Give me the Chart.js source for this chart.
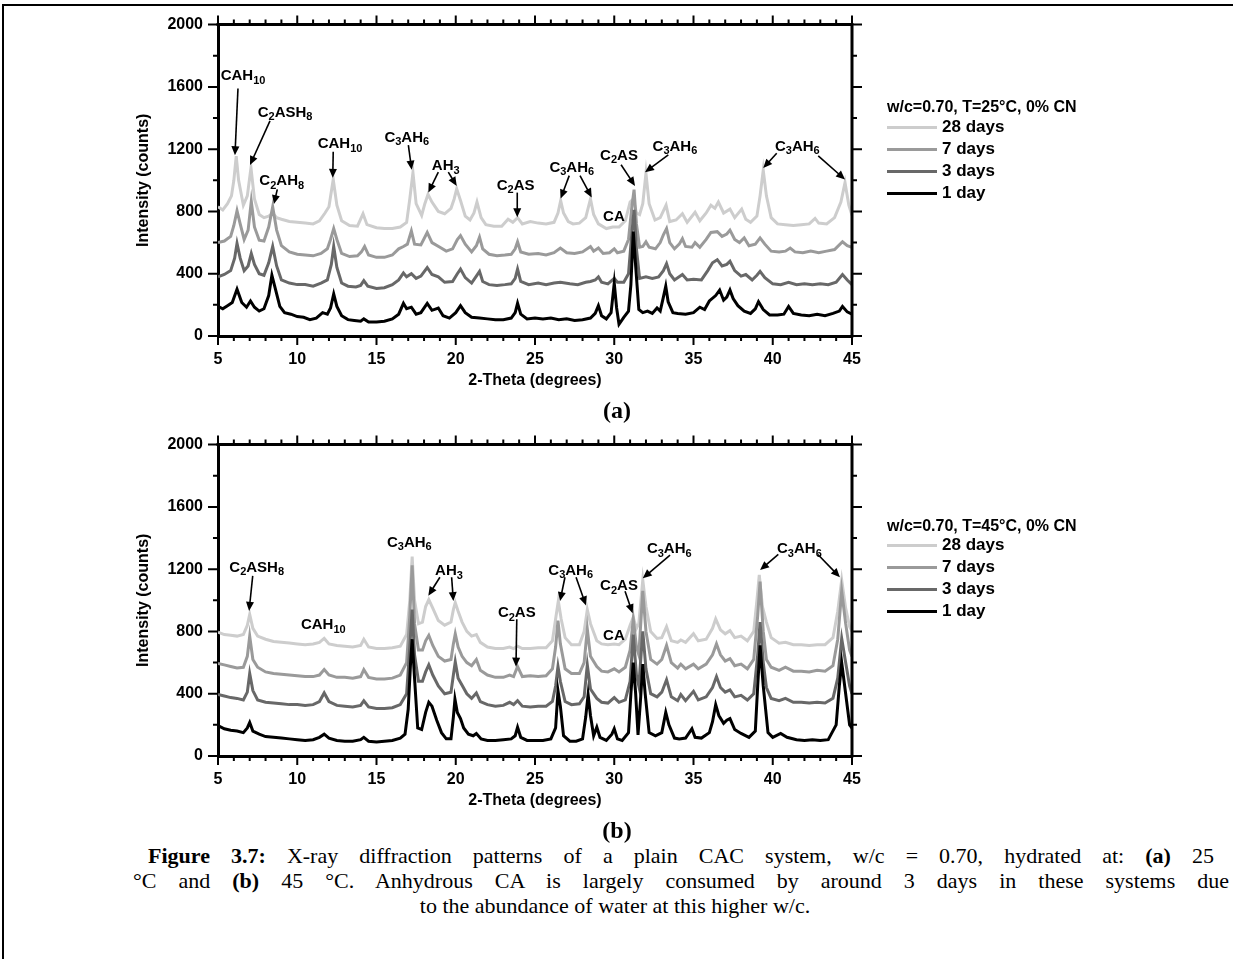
<!DOCTYPE html>
<html><head><meta charset="utf-8">
<script src="https://cdn.jsdelivr.net/npm/chart.js@4/dist/chart.umd.min.js"></script>
<style>
html,body{margin:0;padding:0;background:#fff;}
body{width:1233px;height:959px;overflow:hidden;position:relative;font-family:"Liberation Sans",Arial,sans-serif;color:#000;}
#frame{position:absolute;left:2px;top:4px;width:1300px;height:1000px;border-left:2px solid #000;border-top:2px solid #000;box-sizing:border-box;}
canvas.ch{position:absolute;left:0;}
.lg{position:absolute;font-weight:bold;white-space:nowrap;line-height:20px;}
.sw{position:absolute;height:3px;width:50px;}
.cap{position:absolute;font-family:"Liberation Serif","Times New Roman",serif;font-size:22px;line-height:25px;white-space:nowrap;}
.just{text-align:justify;text-align-last:justify;white-space:normal;}
.pl{position:absolute;font-family:"Liberation Serif","Times New Roman",serif;font-weight:bold;font-size:24px;line-height:26px;width:100px;text-align:center;}
</style></head><body>
<div id="frame"></div>
<canvas id="cA" class="ch" width="1233" height="400" style="top:0px"></canvas>
<canvas id="cB" class="ch" width="1233" height="400" style="top:420px"></canvas>
<div class="pl" style="left:567px;top:397px">(a)</div>
<div class="pl" style="left:567px;top:817px">(b)</div>
<div id="legA"></div><div id="legB"></div>
<div class="cap just" style="left:148px;top:843px;width:1066px"><b>Figure 3.7:</b> X-ray diffraction patterns of a plain CAC system, w/c = 0.70, hydrated at: <b>(a)</b> 25</div>
<div class="cap just" style="left:133px;top:868px;width:1096px">°C and <b>(b)</b> 45 °C. Anhydrous CA is largely consumed by around 3 days in these systems due</div>
<div class="cap" style="left:0;top:893px;width:1230px;text-align:center">to the abundance of water at this higher w/c.</div>
<script>
// ---------- DATA ----------
const seriesLabels = ['1 day','3 days','7 days','28 days'];
const xTickLabels = [5,10,15,20,25,30,35,40,45];
const yTickLabels = [0,400,800,1200,1600,2000];
const legendTitleA = 'w/c=0.70, T=25°C, 0% CN';
const legendTitleB = 'w/c=0.70, T=45°C, 0% CN';

// (a) 25 °C
const a1day = [[5,190],[5.3,175],[5.6,195],[5.9,215],[6.2,300],[6.5,215],[6.8,185],[7.05,225],[7.3,185],[7.6,160],[7.9,175],[8.2,260],[8.4,390],[8.6,310],[8.9,190],[9.2,150],[9.6,140],[10,125],[10.4,120],[10.8,105],[11.2,115],[11.6,150],[11.9,140],[12.1,180],[12.3,270],[12.5,190],[12.8,130],[13.2,105],[13.6,100],[14.0,95],[14.2,110],[14.5,90],[15,90],[15.5,95],[16,110],[16.4,140],[16.7,210],[16.9,175],[17.2,185],[17.5,140],[17.8,150],[18.2,210],[18.5,165],[18.9,180],[19.2,130],[19.6,115],[20.0,150],[20.3,195],[20.6,150],[21.0,120],[21.5,115],[22,110],[22.5,105],[23,105],[23.5,115],[23.75,150],[23.9,210],[24.1,140],[24.5,110],[25,115],[25.5,110],[26,115],[26.5,105],[27,110],[27.5,100],[28,105],[28.5,115],[28.8,145],[29.0,195],[29.2,130],[29.5,110],[29.8,150],[30.0,340],[30.15,180],[30.3,75],[30.6,120],[30.9,160],[31.05,330],[31.2,670],[31.35,450],[31.55,170],[31.8,150],[32.1,160],[32.4,145],[32.7,180],[32.9,160],[33.1,250],[33.25,320],[33.4,220],[33.7,150],[34,145],[34.5,140],[35,150],[35.4,185],[35.7,170],[36.0,225],[36.4,260],[36.65,295],[36.9,230],[37.1,250],[37.3,295],[37.5,240],[37.8,195],[38.2,160],[38.6,145],[38.9,175],[39.1,220],[39.4,170],[39.8,135],[40.3,135],[40.7,140],[41.0,190],[41.3,145],[41.8,135],[42.3,130],[42.8,140],[43.3,130],[43.8,145],[44.2,160],[44.4,190],[44.7,155],[45,140]];
const a3days = [[5,380],[5.4,395],[5.8,420],[6.05,500],[6.2,595],[6.4,500],[6.65,420],[6.9,450],[7.1,530],[7.3,460],[7.6,400],[7.9,390],[8.2,470],[8.45,575],[8.7,450],[9.0,360],[9.5,340],[10,330],[10.5,330],[11,320],[11.5,340],[11.9,360],[12.15,460],[12.3,575],[12.5,440],[12.8,340],[13.2,320],[13.7,315],[14.0,325],[14.2,355],[14.45,320],[15,305],[15.5,310],[16,330],[16.4,360],[16.7,405],[16.9,380],[17.2,400],[17.5,370],[17.8,385],[18.2,440],[18.5,395],[18.9,380],[19.3,345],[19.8,350],[20.1,400],[20.3,430],[20.6,375],[21.0,340],[21.3,385],[21.5,415],[21.7,350],[22.1,330],[22.6,325],[23.1,330],[23.5,335],[23.75,370],[23.9,430],[24.1,350],[24.6,330],[25.2,340],[25.7,330],[26.2,340],[26.6,345],[27.2,335],[27.7,330],[28.2,345],[28.5,350],[28.8,360],[29.0,380],[29.2,345],[29.6,335],[30.0,370],[30.2,345],[30.6,345],[30.9,400],[31.1,650],[31.25,810],[31.4,560],[31.6,370],[32.0,380],[32.4,370],[32.8,380],[33.1,420],[33.3,465],[33.5,400],[33.8,360],[34.3,395],[34.6,360],[35.0,365],[35.5,360],[35.9,420],[36.2,470],[36.5,490],[36.8,450],[37.1,460],[37.3,480],[37.6,420],[38.0,385],[38.3,395],[38.7,360],[39.0,390],[39.2,415],[39.5,375],[40,335],[40.5,330],[41,345],[41.5,330],[42,335],[42.5,330],[43,335],[43.5,330],[44,345],[44.4,395],[44.7,360],[45,330]];
const a7days = [[5,600],[5.4,610],[5.8,640],[6.0,710],[6.2,805],[6.4,720],[6.65,620],[6.9,680],[7.1,865],[7.3,700],[7.6,615],[7.9,610],[8.2,700],[8.45,830],[8.7,680],[9.0,580],[9.5,540],[10,525],[10.5,520],[11,515],[11.5,530],[11.9,560],[12.1,620],[12.3,690],[12.5,620],[12.8,530],[13.3,510],[13.8,515],[14.05,540],[14.25,575],[14.5,520],[15,505],[15.5,505],[16,520],[16.4,560],[16.7,575],[16.95,590],[17.2,675],[17.4,590],[17.8,585],[18.2,665],[18.5,600],[19.0,570],[19.4,545],[19.8,560],[20.1,620],[20.3,645],[20.6,590],[21.0,540],[21.3,580],[21.5,635],[21.7,560],[22.1,525],[22.6,515],[23.1,520],[23.5,525],[23.75,560],[23.9,605],[24.1,540],[24.6,525],[25.2,530],[25.7,520],[26.2,535],[26.6,565],[27.0,535],[27.5,530],[28.0,540],[28.5,575],[28.7,545],[29.0,565],[29.3,530],[29.7,535],[30.0,560],[30.2,535],[30.6,545],[30.9,620],[31.1,820],[31.25,940],[31.4,720],[31.6,570],[31.8,575],[32.0,605],[32.2,570],[32.6,560],[32.9,600],[33.1,650],[33.3,690],[33.5,600],[33.8,560],[34.1,590],[34.3,625],[34.5,575],[34.9,570],[35.1,600],[35.4,570],[35.8,620],[36.1,665],[36.5,670],[36.8,640],[37.1,655],[37.3,680],[37.6,620],[37.9,600],[38.2,630],[38.5,580],[38.9,590],[39.2,630],[39.5,590],[39.9,545],[40.4,540],[40.8,545],[41.1,565],[41.4,540],[41.9,535],[42.4,545],[42.9,535],[43.4,545],[43.9,555],[44.4,605],[44.7,580],[45,570]];
const a28days = [[5,830],[5.3,810],[5.6,850],[5.85,900],[6.0,1000],[6.15,1155],[6.3,1000],[6.6,840],[6.85,900],[7.08,1080],[7.3,880],[7.6,780],[7.9,760],[8.2,770],[8.45,790],[8.7,760],[9.0,750],[9.5,735],[10,730],[10.5,725],[11,720],[11.4,740],[11.75,790],[12.0,830],[12.27,1005],[12.5,840],[12.8,740],[13.3,710],[13.8,705],[14.15,785],[14.4,715],[15,695],[15.5,690],[16,690],[16.5,700],[16.9,730],[17.1,880],[17.3,1050],[17.5,850],[17.85,775],[18.05,850],[18.25,910],[18.5,860],[18.9,800],[19.3,785],[19.7,820],[19.9,880],[20.06,945],[20.3,870],[20.6,770],[20.9,745],[21.15,790],[21.34,860],[21.6,760],[21.9,715],[22.4,705],[22.9,705],[23.3,750],[23.6,730],[23.9,760],[24.2,720],[24.7,735],[25.2,725],[25.7,720],[26.2,730],[26.45,790],[26.62,870],[26.8,790],[27.1,735],[27.4,720],[27.8,725],[28.2,760],[28.5,880],[28.7,780],[29.0,720],[29.5,690],[29.9,700],[30.3,700],[30.7,740],[31.0,860],[31.2,880],[31.4,790],[31.6,780],[31.8,850],[32.0,1045],[32.2,850],[32.57,745],[32.9,760],[33.27,840],[33.5,735],[33.9,745],[34.3,785],[34.6,730],[35.1,795],[35.4,740],[35.8,790],[36.1,840],[36.35,820],[36.57,860],[36.9,790],[37.3,815],[37.6,760],[38.04,815],[38.3,750],[38.6,730],[39.0,770],[39.2,900],[39.4,1065],[39.6,900],[39.9,760],[40.3,720],[40.8,715],[41.3,710],[41.8,715],[42.3,720],[42.67,755],[42.9,725],[43.4,720],[43.9,760],[44.3,860],[44.56,985],[44.8,840],[45,775]];

// (b) 45 °C
const b1day = [[5,195],[5.4,175],[5.8,165],[6.2,160],[6.6,150],[6.85,180],[7.0,215],[7.2,160],[7.6,140],[8,125],[8.5,120],[9,115],[9.5,110],[10,105],[10.5,100],[11,105],[11.4,120],[11.7,140],[12,115],[12.5,100],[13,95],[13.5,95],[14.0,105],[14.2,120],[14.5,95],[15,90],[15.5,95],[16,100],[16.5,115],[16.8,140],[17.0,300],[17.15,600],[17.25,750],[17.4,500],[17.6,180],[17.85,170],[18.1,280],[18.3,345],[18.5,320],[18.8,230],[19.1,150],[19.4,110],[19.7,110],[19.85,250],[19.95,365],[20.1,280],[20.3,240],[20.5,180],[20.8,140],[21.1,130],[21.3,145],[21.6,110],[22,100],[22.5,100],[23,105],[23.5,110],[23.75,130],[23.9,185],[24.1,120],[24.5,100],[25,100],[25.5,100],[26.0,110],[26.3,180],[26.45,420],[26.6,320],[26.8,130],[27.2,95],[27.6,95],[28.0,110],[28.2,250],[28.35,395],[28.5,260],[28.7,130],[28.9,185],[29.1,120],[29.5,100],[29.85,140],[30.0,175],[30.2,110],[30.5,100],[30.9,150],[31.05,400],[31.2,600],[31.35,400],[31.5,135],[31.65,350],[31.8,590],[31.95,400],[32.2,150],[32.6,130],[33.0,150],[33.25,280],[33.45,200],[33.8,115],[34.1,110],[34.5,115],[34.9,175],[35.1,120],[35.5,115],[36.0,150],[36.2,220],[36.4,330],[36.6,260],[36.9,210],[37.1,230],[37.3,240],[37.6,170],[38.0,145],[38.5,120],[38.9,160],[39.05,450],[39.2,710],[39.4,450],[39.7,150],[40.0,120],[40.5,145],[40.9,120],[41.5,105],[42,100],[42.5,105],[43,100],[43.5,105],[44.0,200],[44.2,450],[44.35,600],[44.6,400],[44.85,200],[45,180]];
const b3days = [[5,395],[5.4,385],[5.8,375],[6.2,370],[6.6,360],[6.85,410],[7.0,530],[7.2,420],[7.5,360],[8,345],[8.5,340],[9,335],[9.5,330],[10,330],[10.5,325],[11,330],[11.4,350],[11.7,405],[12.0,350],[12.5,325],[13,320],[13.5,315],[14.0,325],[14.2,355],[14.5,315],[15,305],[15.5,305],[16,310],[16.5,330],[16.9,400],[17.1,700],[17.25,940],[17.4,650],[17.65,480],[17.9,480],[18.1,540],[18.3,585],[18.55,520],[18.9,450],[19.3,400],[19.7,410],[19.85,520],[19.97,605],[20.15,500],[20.4,455],[20.7,400],[21.0,370],[21.3,405],[21.55,350],[22,330],[22.5,320],[23,325],[23.4,345],[23.65,330],[23.9,355],[24.2,320],[24.7,315],[25.2,320],[25.7,320],[26.1,350],[26.3,450],[26.45,575],[26.6,480],[26.9,350],[27.3,330],[27.8,335],[28.1,380],[28.3,585],[28.5,430],[28.9,370],[29.2,345],[29.6,340],[30.0,375],[30.3,345],[30.7,360],[31.0,480],[31.2,780],[31.4,520],[31.55,450],[31.8,800],[32.0,560],[32.3,400],[32.7,380],[33.0,410],[33.3,490],[33.6,380],[34.0,355],[34.2,395],[34.5,355],[35.0,415],[35.3,360],[35.8,380],[36.2,440],[36.45,510],[36.7,440],[37.0,410],[37.3,425],[37.6,380],[38.0,390],[38.4,360],[38.8,400],[39.05,650],[39.2,860],[39.4,600],[39.6,440],[39.9,370],[40.4,355],[40.8,370],[41.3,345],[41.8,345],[42.3,340],[42.8,345],[43.3,340],[43.8,370],[44.1,500],[44.35,755],[44.6,600],[44.85,450],[45,400]];
const b7days = [[5,595],[5.4,585],[5.8,575],[6.2,565],[6.6,570],[6.85,640],[7.0,770],[7.2,620],[7.5,570],[8,540],[8.5,530],[9,525],[9.5,520],[10,515],[10.5,510],[11,510],[11.4,520],[11.7,555],[12.0,520],[12.5,505],[13,505],[13.5,500],[14.0,510],[14.2,555],[14.5,505],[15,495],[15.5,495],[16,500],[16.5,520],[16.9,600],[17.1,900],[17.25,1225],[17.4,850],[17.65,680],[17.9,680],[18.1,740],[18.3,775],[18.55,710],[18.9,640],[19.3,610],[19.7,620],[19.85,720],[19.97,785],[20.15,700],[20.4,640],[20.7,600],[21.0,580],[21.3,620],[21.55,550],[22,520],[22.5,505],[23,505],[23.4,520],[23.65,510],[23.9,575],[24.2,510],[24.7,515],[25.2,510],[25.7,515],[26.1,560],[26.3,700],[26.45,870],[26.6,720],[26.9,560],[27.3,530],[27.8,530],[28.1,600],[28.3,815],[28.5,640],[28.9,575],[29.2,545],[29.6,540],[30.0,560],[30.3,540],[30.7,570],[31.0,680],[31.2,880],[31.4,700],[31.55,650],[31.8,1060],[32.0,800],[32.3,620],[32.7,590],[33.0,620],[33.3,710],[33.6,600],[34.0,565],[34.2,590],[34.5,560],[35.0,590],[35.3,560],[35.8,590],[36.2,650],[36.45,720],[36.7,650],[37.0,610],[37.3,625],[37.6,580],[38.0,590],[38.4,560],[38.8,620],[39.05,900],[39.2,1120],[39.4,800],[39.6,620],[39.9,570],[40.4,550],[40.8,570],[41.3,545],[41.8,545],[42.3,540],[42.8,550],[43.3,545],[43.8,580],[44.1,750],[44.35,1060],[44.6,850],[44.85,680],[45,640]];
const b28days = [[5,795],[5.4,780],[5.8,775],[6.2,770],[6.6,780],[6.85,840],[7.0,910],[7.2,820],[7.5,770],[8,750],[8.5,735],[9,730],[9.5,725],[10,720],[10.5,715],[11,720],[11.4,730],[11.7,755],[12.0,720],[12.5,710],[13,705],[13.5,700],[14.0,710],[14.2,750],[14.5,700],[15,690],[15.5,690],[16,695],[16.5,705],[16.9,780],[17.1,1000],[17.25,1280],[17.4,1000],[17.65,850],[17.9,860],[18.1,960],[18.3,1005],[18.55,950],[18.9,870],[19.3,840],[19.7,860],[19.85,940],[19.97,985],[20.15,930],[20.4,860],[20.7,800],[21.0,770],[21.3,780],[21.55,730],[22,700],[22.5,690],[23,690],[23.4,700],[23.65,690],[23.9,705],[24.2,690],[24.7,690],[25.2,695],[25.7,695],[26.1,740],[26.3,880],[26.47,995],[26.65,880],[26.9,760],[27.3,715],[27.8,715],[28.1,800],[28.3,940],[28.5,850],[28.9,740],[29.2,720],[29.6,715],[30.0,720],[30.3,715],[30.7,750],[31.0,840],[31.2,890],[31.4,820],[31.55,850],[31.8,1130],[32.0,960],[32.3,800],[32.7,755],[33.0,760],[33.3,830],[33.6,740],[34.0,730],[34.2,745],[34.5,730],[35.0,785],[35.3,740],[35.8,750],[36.2,820],[36.4,880],[36.7,810],[37.0,785],[37.3,805],[37.6,760],[38.0,770],[38.4,740],[38.8,800],[39.0,1000],[39.15,1163],[39.35,960],[39.6,860],[39.9,760],[40.4,725],[40.8,730],[41.3,715],[41.8,715],[42.3,710],[42.8,715],[43.3,715],[43.8,760],[44.1,930],[44.35,1130],[44.6,950],[44.85,830],[45,800]];

// ---------- annotation labels (text + anchor/arrow in data units) ----------
const annotA = [
 {t:'CAH10', x:6.58, y:1678, ar:[[6.26,1590,6.07,1161]]},
 {t:'C2ASH8', x:9.23, y:1445, ar:[[8.28,1382,7.02,1098]]},
 {t:'C2AH8', x:9.02, y:1005, ar:[[8.74,942,8.53,847]]},
 {t:'CAH10', x:12.70, y:1241, ar:[[12.27,1184,12.24,1016]]},
 {t:'C3AH6', x:16.91, y:1283, ar:[[17.01,1226,17.22,1068]]},
 {t:'AH3', x:19.37, y:1100, ar:[[18.90,1052,18.27,921],[19.53,1052,20.06,964]]},
 {t:'C2AS', x:23.78, y:974, ar:[[23.88,921,23.88,763]]},
 {t:'C3AH6', x:27.32, y:1090, ar:[[27.16,1030,26.62,883],[27.84,1030,28.58,890]]},
 {t:'C2AS', x:30.30, y:1167, ar:[[30.43,1100,31.31,964]]},
 {t:'CA', x:29.98, y:774, ar:[]},
 {t:'C3AH6', x:33.83, y:1226, ar:[[33.41,1163,31.94,1052]]},
 {t:'C3AH6', x:41.55, y:1226, ar:[[40.25,1174,39.40,1079],[42.87,1157,44.56,1005]]}
];
const annotB = [
 {t:'C2ASH8', x:7.44, y:1220, ar:[[7.19,1157,6.96,932]]},
 {t:'CAH10', x:11.64, y:848, ar:[]},
 {t:'C3AH6', x:17.07, y:1380, ar:[]},
 {t:'AH3', x:19.57, y:1195, ar:[[19.0,1148,18.27,1030],[19.74,1148,19.85,995]]},
 {t:'C2AS', x:23.85, y:926, ar:[[23.85,879,23.8,574]]},
 {t:'C3AH6', x:27.25, y:1199, ar:[[26.89,1148,26.58,995],[27.59,1148,28.22,967]]},
 {t:'C2AS', x:30.30, y:1100, ar:[[30.68,1058,31.16,917]]},
 {t:'CA', x:29.98, y:778, ar:[]},
 {t:'C3AH6', x:33.47, y:1338, ar:[[33.52,1290,31.80,1142]]},
 {t:'C3AH6', x:41.68, y:1338, ar:[[40.35,1295,39.20,1194],[42.85,1294,44.24,1148]]}
];

// ---------- styling ----------
const colors = ['#000000','#686868','#9a9a9a','#cdcdcd'];
const FONT = '"Liberation Sans", Arial, sans-serif';
Chart.defaults.font.family = FONT;
Chart.defaults.color = '#000';

const toXY = arr => arr.map(p => ({x:p[0], y:p[1]}));

const frameTicks = {
  id:'frameTicks',
  afterDraw(chart){
    const {ctx, chartArea:{left,right,top,bottom}, scales:{x,y}} = chart;
    ctx.save();
    ctx.strokeStyle='#000';
    ctx.lineWidth=3;
    ctx.beginPath();
    ctx.moveTo(left-1.5, top); ctx.lineTo(right+1.5, top);
    ctx.moveTo(right, top); ctx.lineTo(right, bottom+1.5);
    ctx.stroke();
    ctx.lineWidth=2;
    ctx.beginPath();
    for(let v=5; v<=45; v++){
      const px = x.getPixelForValue(v);
      const L = (v%5===0)?9:5;
      ctx.moveTo(px,bottom); ctx.lineTo(px,bottom+L);
      ctx.moveTo(px,top); ctx.lineTo(px,top-L);
    }
    for(let v=0; v<=2000; v+=200){
      const py = y.getPixelForValue(v);
      const L = (v%400===0)?10:5;
      ctx.moveTo(left,py); ctx.lineTo(left-L,py);
      ctx.moveTo(right,py); ctx.lineTo(right+L,py);
    }
    ctx.stroke();
    ctx.restore();
  }
};

function drawChem(ctx, text, cx, cy){
  const runs = text.match(/\d+|\D+/g);
  const big = 'bold 15px '+FONT, small = 'bold 11px '+FONT;
  let w = 0;
  const parts = runs.map(r => { const sub=/\d/.test(r); ctx.font = sub?small:big; const m=ctx.measureText(r).width; w+=m; return {r,sub,m}; });
  let xx = cx - w/2;
  ctx.textAlign='left'; ctx.textBaseline='alphabetic'; ctx.fillStyle='#000';
  parts.forEach(p => { ctx.font = p.sub?small:big; ctx.fillText(p.r, xx, cy + (p.sub?9:5.5)); xx += p.m; });
}
function arrow(ctx, x0,y0,x1,y1){
  const a = Math.atan2(y1-y0, x1-x0), L=9, W=4;
  ctx.beginPath(); ctx.moveTo(x0,y0); ctx.lineTo(x1 - Math.cos(a)*L*0.8, y1 - Math.sin(a)*L*0.8); ctx.stroke();
  ctx.beginPath();
  ctx.moveTo(x1,y1);
  ctx.lineTo(x1 - L*Math.cos(a) + W*Math.sin(a), y1 - L*Math.sin(a) - W*Math.cos(a));
  ctx.lineTo(x1 - L*Math.cos(a) - W*Math.sin(a), y1 - L*Math.sin(a) + W*Math.cos(a));
  ctx.closePath(); ctx.fill();
}
const annotPlugin = {
  id:'annot',
  afterDatasetsDraw(chart, args, opts){
    const {ctx, scales:{x,y}} = chart;
    ctx.save();
    ctx.strokeStyle='#000'; ctx.fillStyle='#000'; ctx.lineWidth=1.6;
    (opts.items||[]).forEach(a => {
      drawChem(ctx, a.t, x.getPixelForValue(a.x), y.getPixelForValue(a.y));
      a.ar.forEach(r => arrow(ctx, x.getPixelForValue(r[0]), y.getPixelForValue(r[1]), x.getPixelForValue(r[2]), y.getPixelForValue(r[3])));
    });
    ctx.restore();
  }
};

function makeChart(id, series, annots){
  return new Chart(document.getElementById(id), {
    type:'line',
    data:{ datasets: series.map((s,i)=>({label:seriesLabels[i], data:toXY(s), borderColor:colors[i], backgroundColor:colors[i], borderWidth:3, pointRadius:0, tension:0, fill:false})) },
    options:{
      responsive:false, animation:false, devicePixelRatio:1,
      layout:{padding:{left:0, top:19, right:381, bottom:0}},
      plugins:{legend:{display:false}, tooltip:{enabled:false}, annot:{items:annots}},
      scales:{
        x:{type:'linear', min:5, max:45, position:'bottom',
           afterFit(s){ s.height = 64; },
           afterBuildTicks(s){ s.ticks = xTickLabels.map(v=>({value:v})); },
           ticks:{padding:14, font:{size:16, weight:'bold'}, color:'#000', maxRotation:0, autoSkip:false, callback:v=>String(v)},
           grid:{display:false, drawTicks:false},
           border:{display:true, width:3, color:'#000'},
           title:{display:true, text:'2-Theta (degrees)', font:{size:16, weight:'bold'}, color:'#000', padding:{top:0, bottom:10}}},
        y:{type:'linear', min:0, max:2000, position:'left',
           afterFit(s){ s.width = 218; },
           afterBuildTicks(s){ s.ticks = yTickLabels.map(v=>({value:v})); },
           ticks:{padding:15, font:{size:16, weight:'bold'}, color:'#000', autoSkip:false, callback:v=>String(v)},
           grid:{display:false, drawTicks:false},
           border:{display:true, width:3, color:'#000'},
           title:{display:true, text:'Intensity (counts)', font:{size:16, weight:'bold'}, color:'#000', padding:{top:134, bottom:0}}}
      }
    },
    plugins:[frameTicks, annotPlugin]
  });
}
makeChart('cA', [a1day,a3days,a7days,a28days], annotA);
makeChart('cB', [b1day,b3days,b7days,b28days], annotB);

function makeLegend(el, title, titleTop, itemTops){
  let h = `<div class="lg" style="left:887px;top:${titleTop-10}px;font-size:16px">${title}</div>`;
  const order = [3,2,1,0];
  order.forEach((si,k)=>{
    const cy = itemTops[k];
    h += `<div class="sw" style="left:887px;top:${cy-1.5}px;background:${colors[si]}"></div>`;
    h += `<div class="lg" style="left:942px;top:${cy-10}px;font-size:17px">${seriesLabels[si]}</div>`;
  });
  document.getElementById(el).innerHTML = h;
}
makeLegend('legA', legendTitleA, 107, [127,149,171,193]);
makeLegend('legB', legendTitleB, 526, [545,567,589,611]);
</script>
</body></html>
